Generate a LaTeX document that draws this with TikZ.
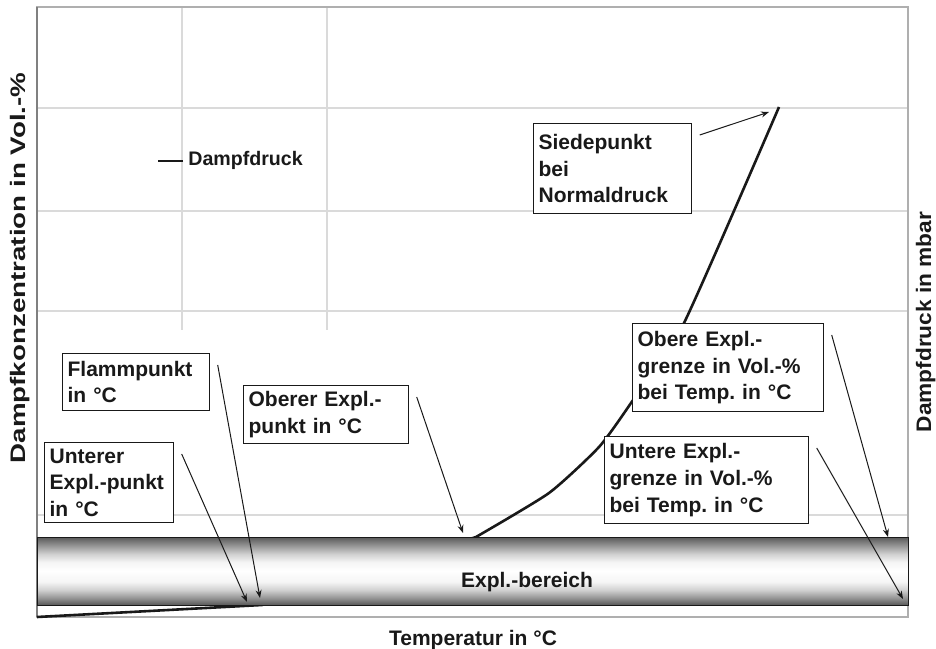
\documentclass[tikz,border=0pt]{standalone}
\usepackage{fontspec}
\setmainfont{Liberation Sans}
\usepackage{graphicx}
\usetikzlibrary{arrows.meta, calc}
\definecolor{gridgray}{RGB}{218,218,218}
\definecolor{framegray}{RGB}{175,175,175}
\definecolor{bandgray}{RGB}{88,88,88}
\definecolor{inkdark}{RGB}{25,25,25}
\pgfdeclareverticalshading{bandshade}{100bp}{%
  color(0bp)=(bandgray); color(25bp)=(bandgray);
  color(30bp)=(bandgray!65!white); color(36bp)=(bandgray!28!white);
  color(42bp)=(bandgray!6!white); color(50bp)=(white);
  color(56.5bp)=(bandgray!6!white); color(62.5bp)=(bandgray!28!white);
  color(69bp)=(bandgray!65!white); color(75bp)=(bandgray); color(100bp)=(bandgray)}
\tikzset{
  callout/.style={rectangle, draw=inkdark, fill=white, line width=0.6pt,
    anchor=north west, align=left, inner sep=2.5pt,
    font=\fontsize{10.5}{13.3}\selectfont\bfseries, text=inkdark},
  axislabel/.style={font=\fontsize{10.5}{12}\selectfont\bfseries, text=inkdark, inner sep=0pt},
  pointer/.style={-{Stealth[length=4pt, width=3pt]}, line width=0.5pt, color=inkdark},
  curve/.style={line width=1.3pt, color=inkdark, line join=round},
  grid line/.style={gridgray, line width=0.6pt}
}
\frenchspacing

\begin{document}
\begin{tikzpicture}[x=0.5pt, y=0.5pt]
  \useasboundingbox (0,0) rectangle (936,648);

  % Grid and frame
  \foreach \gy in {540,437,337,133}
    \draw[grid line] (37,\gy) -- (908,\gy);
  \foreach \gx in {182,327}
    \draw[grid line] (\gx,641) -- (\gx,318);
  \draw[framegray, line width=0.6pt] (37,31) rectangle (908,641);
  \draw[gray, line width=0.7pt] (37,31) -- (37,641);

  % Vapour pressure curve
  \draw[curve] (37,31) -- (262,43) -- (476,111);
  \draw[curve] plot[smooth, tension=0.35] coordinates {(476,111) (549,155) (599,201) (631,245) (684,325) (779,541)};

  % Explosion range band
  \shade[shading=bandshade] (37,43) rectangle (908,111);
  \draw[inkdark, line width=0.5pt] (37,43) rectangle (908,111);
  \node[axislabel, anchor=base] (bereich) at (527,61) {Expl.-bereich};

  % Callouts
  \node[callout, text width=74pt, minimum height=45pt] (sied) at (533,525) {Siedepunkt\\bei\\Normaldruck};
  \node[callout, text width=68.5pt, minimum height=28.5pt] (flamm) at (62,295) {Flammpunkt\\in °C};
  \node[callout, text width=59.5pt, minimum height=40pt] (uep) at (44,206) {Unterer\\Expl.-punkt\\in °C};
  \node[callout, text width=77.5pt, minimum height=29pt] (oep) at (243,263) {Oberer Expl.-\\punkt in °C};
  \node[callout, text width=90.5pt, minimum height=44pt] (oeg) at (632,325) {Obere Expl.-\\grenze in Vol.-\%\\bei Temp. in °C};
  \node[callout, text width=97pt, minimum height=43.5pt] (ueg) at (604,212) {Untere Expl.-\\grenze in Vol.-\%\\bei Temp. in °C};

  % Pointer targets
  \coordinate (siedtip) at (769,536);
  \coordinate (flammtip) at (260,50);
  \coordinate (ueptip) at (247,46);
  \coordinate (oeptip) at (463,115);
  \coordinate (oegtip) at (888,111);
  \coordinate (uegtip) at (903,49);
  \foreach \b in {sied,flamm,uep,oep,oeg,ueg}
    \draw[pointer] ($(\b.north east)+(7.5,-12)$) -- (\b tip);

  % Legend
  \node[axislabel, font=\fontsize{9.8}{11}\selectfont\bfseries, anchor=base west] (legend) at (188,482) {Dampfdruck};
  \draw[curve] ($(legend.west)+(-5,0)$) -- ++(-25,0);

  % Axis titles
  \node[axislabel, anchor=base] (xlabel) at (473,3) {Temperatur in °C};
  \node[axislabel, rotate=90, anchor=base] (ylabel) at (25,380) {\scalebox{1.32}[1]{Dampfkonzentration in Vol.-\%}};
  \node[axislabel, rotate=90, anchor=base] (y2label) at (931,326) {\scalebox{1.08}[1]{Dampfdruck in mbar}};
\end{tikzpicture}
\end{document}
